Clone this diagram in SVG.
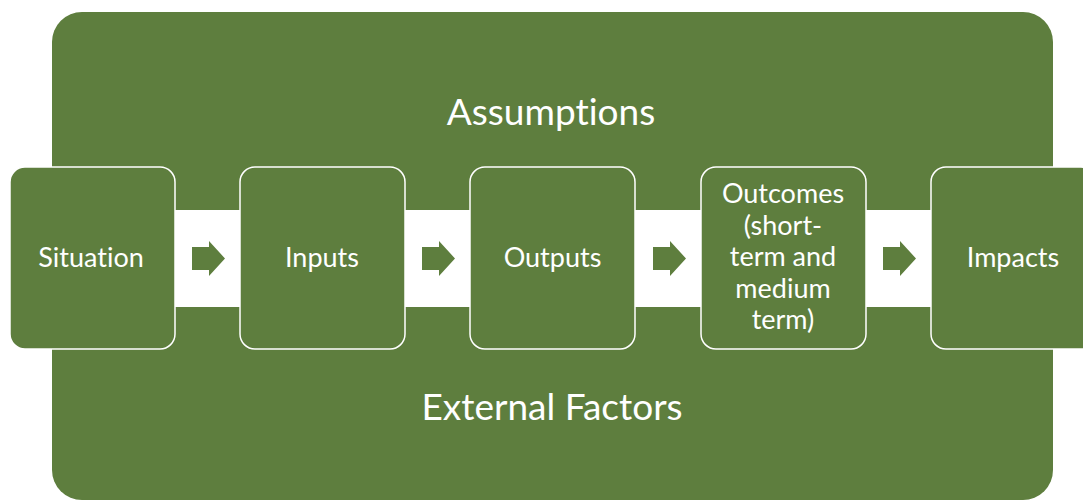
<svg xmlns="http://www.w3.org/2000/svg" width="1083" height="502" viewBox="0 0 1083 502">
<style>
.bg{fill:#5E7E3E}
.box{fill:#5E7E3E;stroke:#FFFFFF;stroke-width:1.5}
.t{font-family:Lato,"Open Sans",sans-serif;fill:#FFFFFF;text-anchor:middle;font-variant-ligatures:none}
.lbl{font-size:27px}
.big{font-size:37px}
.arr{fill:#5E7E3E}
</style>
<rect width="1083" height="502" fill="#FFFFFF"/>
<rect class="bg" x="52" y="12" width="1001" height="488" rx="30"/>
<rect x="10" y="210" width="1073" height="97" fill="#FFFFFF"/>
<text class="t big" x="551" y="125">Assumptions</text>
<text class="t big" x="552" y="420">External Factors</text>
<g id="connectors">
<polygon class="arr" points="192,247 209,247 209,241 225,258.5 209,276 209,270 192,270"/>
<polygon class="arr" points="422,247 439,247 439,241 455,258.5 439,276 439,270 422,270"/>
<polygon class="arr" points="653,247 670,247 670,241 686,258.5 670,276 670,270 653,270"/>
<polygon class="arr" points="883,247 900,247 900,241 916,258.5 900,276 900,270 883,270"/>
</g>
<g id="situation"><rect class="box" x="10" y="167" width="165" height="182" rx="15"/><text class="t lbl" x="91" y="267">Situation</text></g>
<g id="inputs"><rect class="box" x="240" y="167" width="165" height="182" rx="15"/><text class="t lbl" x="322" y="267">Inputs</text></g>
<g id="outputs"><rect class="box" x="470" y="167" width="165" height="182" rx="15"/><text class="t lbl" x="552.5" y="267">Outputs</text></g>
<g id="outcomes"><rect class="box" x="701" y="167" width="165" height="182" rx="15"/>
<text class="t lbl" x="783" y="203">Outcomes</text>
<text class="t lbl" x="783" y="235">(short-</text>
<text class="t lbl" x="783" y="266">term and</text>
<text class="t lbl" x="783" y="298">medium</text>
<text class="t lbl" x="783" y="329">term)</text></g>
<g id="impacts"><rect class="box" x="931" y="167" width="165" height="182" rx="15"/><text class="t lbl" x="1013" y="267">Impacts</text></g>
</svg>
